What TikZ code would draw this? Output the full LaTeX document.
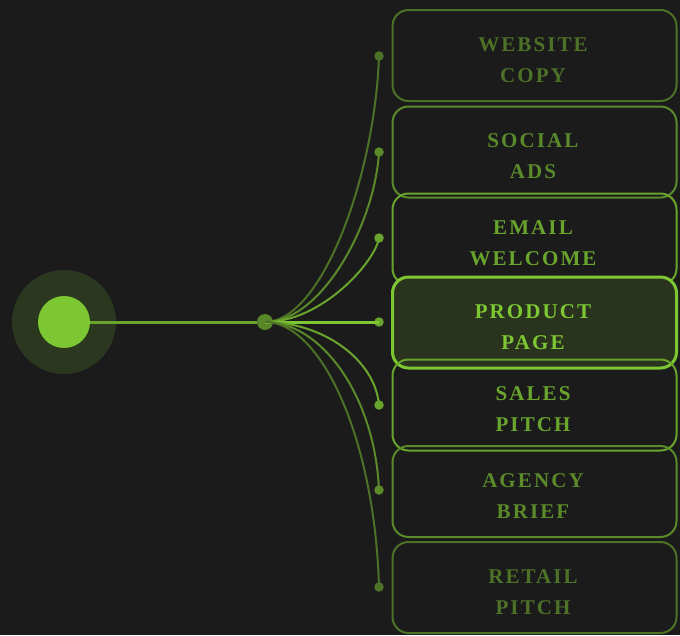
\documentclass[tikz,border=0pt]{standalone}
\usepackage{fontspec}
\newfontfamily\boxfont[LetterSpace=10]{Liberation Serif Bold}
\definecolor{bgc}{HTML}{1B1B1B}
\definecolor{gr}{HTML}{7DC832}
\colorlet{c0}{gr}
\colorlet{c1}{gr!80!bgc}
\colorlet{c2}{gr!64!bgc}
\colorlet{c3}{gr!50!bgc}
\tikzset{
  box/.style={draw, line width=2pt, rounded corners=16pt, minimum width=284pt,
    minimum height=91pt, inner sep=0pt},
  boxtext/.style={align=center, inner sep=0pt,
    font=\boxfont\fontsize{21}{31}\selectfont},
  link/.style={line width=2pt},
  enddot/.style={circle, inner sep=0pt, minimum size=9.5pt},
}
\begin{document}
\begin{tikzpicture}[x=1pt,y=-1pt]
\fill[bgc] (0,0) rectangle (680,635);
\useasboundingbox (0,0) rectangle (680,635);

% source
\node[circle, fill=gr!16!bgc, minimum size=104pt, inner sep=0pt] (halo) at (64,322) {};
\node[circle, fill=gr, minimum size=52pt, inner sep=0pt] (core) at (64,322) {};
\node[circle, fill=gr!62!bgc, minimum size=16pt, inner sep=0pt] (hub) at (265,322) {};
\draw[c1, line width=3pt] (core.east) -- (hub.west);

% end dots
\node[enddot, fill=c3] (d1) at (379,56) {};
\node[enddot, fill=c2] (d2) at (379,152) {};
\node[enddot, fill=c1] (d3) at (379,238) {};
\node[enddot, fill=c1] (d4) at (379,322) {};
\node[enddot, fill=c1] (d5) at (379,405) {};
\node[enddot, fill=c2] (d6) at (379,490) {};
\node[enddot, fill=c3] (d7) at (379,587) {};

% connectors
\draw[link, c3] (hub.center) .. controls (322,322) and (375,175) .. (d1.center);
\draw[link, c2] (hub.center) .. controls (322,322) and (375,223) .. (d2.center);
\draw[link, c1] (hub.center) .. controls (322,322) and (375,262) .. (d3.center);
\draw[c0, line width=3pt] (hub.center) -- (d4.center);
\draw[link, c1] (hub.center) .. controls (322,322) and (375,359) .. (d5.center);
\draw[link, c2] (hub.center) .. controls (322,322) and (375,397) .. (d6.center);
\draw[link, c3] (hub.center) .. controls (322,322) and (375,441) .. (d7.center);

% boxes
\node[box, draw=c3] (b1) at (534.5,55.5) {};
\node[box, draw=c2] (b2) at (534.5,152) {};
\node[box, draw=c1] (b3) at (534.5,239) {};
\node[box, draw=c0, fill=gr!14!bgc, line width=3pt] (b4) at (534.5,322.5) {};
\node[box, draw=c1] (b5) at (534.5,405) {};
\node[box, draw=c2] (b6) at (534.5,491.5) {};
\node[box, draw=c3] (b7) at (534.5,587.5) {};

% labels
\node[boxtext, text=c3] (t1) at ([xshift=-1.5pt,yshift=-4.5pt]b1.center) {WEBSITE\\COPY};
\node[boxtext, text=c2] (t2) at ([xshift=-1.5pt,yshift=-4.5pt]b2.center) {SOCIAL\\ADS};
\node[boxtext, text=c1] (t3) at ([xshift=-1.5pt,yshift=-4.5pt]b3.center) {EMAIL\\WELCOME};
\node[boxtext, text=c0] (t4) at ([xshift=-1.5pt,yshift=-4.5pt]b4.center) {PRODUCT\\PAGE};
\node[boxtext, text=c1] (t5) at ([xshift=-1.5pt,yshift=-4.5pt]b5.center) {SALES\\PITCH};
\node[boxtext, text=c2] (t6) at ([xshift=-1.5pt,yshift=-4.5pt]b6.center) {AGENCY\\BRIEF};
\node[boxtext, text=c3] (t7) at ([xshift=-1.5pt,yshift=-4.5pt]b7.center) {RETAIL\\PITCH};
\end{tikzpicture}
\end{document}
